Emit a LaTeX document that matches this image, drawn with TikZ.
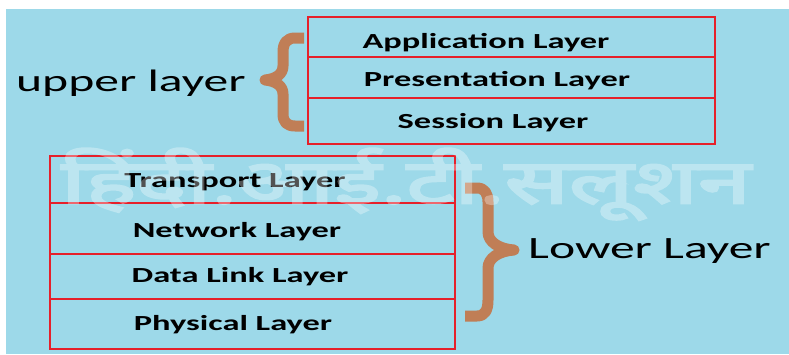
\documentclass[tikz,border=0pt]{standalone}
\usepackage{graphicx}
\usepackage{fontspec}
\setmainfont{Carlito}
\newfontfamily\hindi[Script=Devanagari, FakeBold=3]{Noto Sans}
\definecolor{skyback}{RGB}{157,217,233}
\definecolor{layerred}{RGB}{230,32,42}
\definecolor{bracebrown}{RGB}{192,126,86}
% horizontally widened lettering
\newcommand{\wide}[1]{\scalebox{1.6}[1]{#1}}
\tikzset{
  layerrow/.style={draw=layerred, line width=2.6pt, inner sep=0pt},
  layertext/.style={anchor=base, inner sep=0pt, font=\fontsize{21.5}{24}\selectfont\bfseries},
  grouptext/.style={inner sep=0pt, font=\fontsize{31}{34}\selectfont},
  bracestroke/.style={draw=bracebrown, line width=11pt, line join=round, line cap=butt},
}
\begin{document}
\begin{tikzpicture}[x=1pt,y=-1pt]
\useasboundingbox (0,0) rectangle (789,354);
\fill[white] (0,0) rectangle (789,354);
\fill[skyback] (6,9) rectangle (789,354);

% upper stack
\draw[layerrow] (308,17) rectangle (715,57);
\draw[layerrow] (308,57) rectangle (715,98);
\draw[layerrow] (308,98) rectangle (715,144);
\node[layertext] (app) at (486,48) {\wide{Application Layer}};
\node[layertext] (pres) at (497,86) {\wide{Presentation Layer}};
\node[layertext] (sess) at (493,128) {\wide{Session Layer}};

% lower stack
\draw[layerrow] (50,156) rectangle (455,203);
\draw[layerrow] (50,203) rectangle (455,254);
\draw[layerrow] (50,254) rectangle (455,299);
\draw[layerrow] (50,299) rectangle (455,349);
\node[layertext] (trans) at (235,187) {\wide{Transport Layer}};
\node[layertext] (net) at (237,237) {\wide{Network Layer}};
\node[layertext] (dll) at (240,282) {\wide{Data Link Layer}};
\node[layertext] (phys) at (233,330) {\wide{Physical Layer}};

% group labels
\node[grouptext, anchor=base west] (upper) at (16,91) {\wide{upper layer}};
\node[grouptext, anchor=base west] (lower) at (528,258) {\wide{Lower Layer}};

% opening brace for the upper group
\draw[bracestroke] (304,38) -- (295,38)
  .. controls (287,38) and (283,43) .. (283,52) -- (283,66)
  .. controls (283,74) and (276,79) .. (265,80)
  .. controls (276,81) and (283,86) .. (283,94) -- (283,114)
  .. controls (283,122) and (287,126) .. (295,126) -- (304,126);

% closing brace for the lower group
\draw[bracestroke] (465,188) -- (477,188)
  .. controls (485,188) and (488,194) .. (488,202) -- (488,232)
  .. controls (488,242) and (499,249) .. (514,250)
  .. controls (499,251) and (488,258) .. (488,268) -- (488,300)
  .. controls (488,310) and (485,316) .. (477,316) -- (465,316);

% faint site mark across the middle
\begin{scope}[transparency group, opacity=0.32]
\node[anchor=north west, inner sep=0pt, text=white] (mark) at (61,148)
  {\resizebox*{689pt}{72pt}{\hindi हिंदी.आई.टी.सलूशन}};
\end{scope}
\end{tikzpicture}
\end{document}
